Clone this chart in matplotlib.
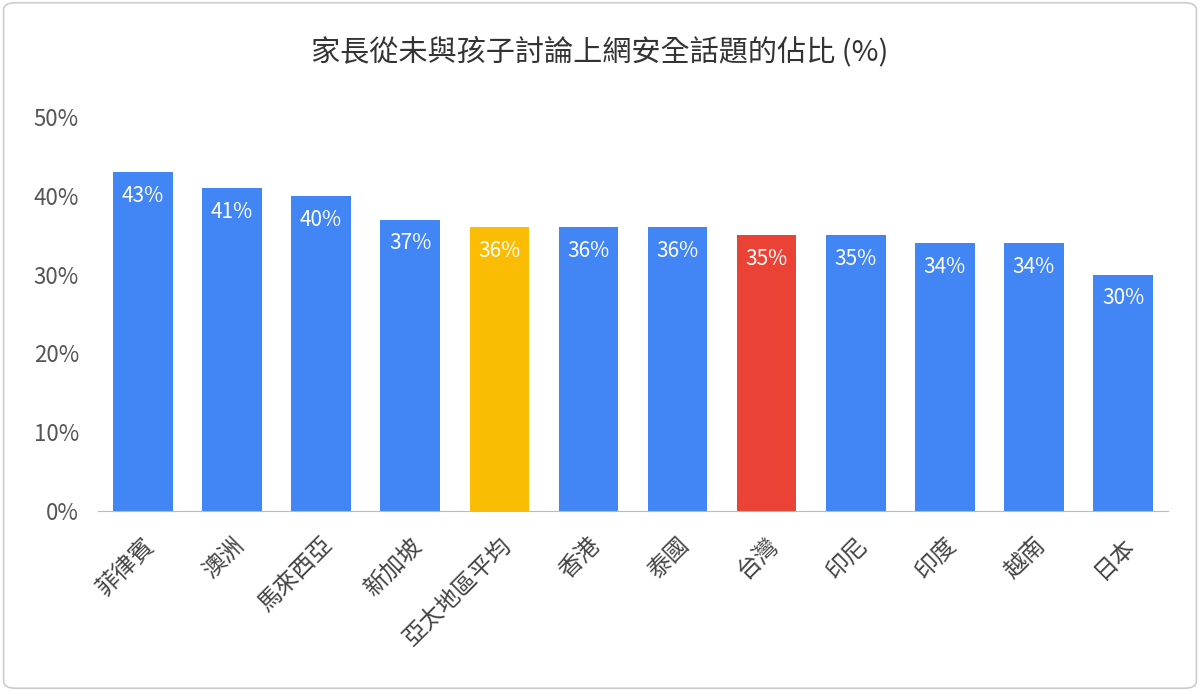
import matplotlib
matplotlib.use("Agg")
import matplotlib.pyplot as plt
from matplotlib.patches import FancyBboxPatch

plt.rcParams['font.family'] = ['Noto Sans CJK TC', 'DejaVu Sans']

categories = ["菲律賓", "澳洲", "馬來西亞", "新加坡", "亞太地區平均", "香港", "泰國", "台灣", "印尼", "印度", "越南", "日本"]
values = [43, 41, 40, 37, 36, 36, 36, 35, 35, 34, 34, 30]
colors = ["#4285F4"] * 12
colors[4] = "#FBBC04"
colors[7] = "#EA4335"
yticks = [0, 10, 20, 30, 40, 50]

fig = plt.figure(figsize=(12, 6.91), dpi=100)
fig.patches.append(FancyBboxPatch((0.003, 0.004), 0.994, 0.992, boxstyle="round,pad=0,rounding_size=0.01",
                                  transform=fig.transFigure, fill=False, edgecolor="#cccccc", linewidth=1.2))
ax = fig.add_axes([0.082, 0.2605, 0.891, 0.570])
x = range(len(categories))
ax.bar(x, values, width=0.67, color=colors)
for xi, v in zip(x, values):
    ax.text(xi, v - 1.6, f"{v}%", ha="center", va="top", color="white", fontsize=15)
ax.set_ylim(0, 50)
ax.set_xlim(-0.5, len(categories) - 0.5)
ax.set_yticks(yticks)
ax.set_yticklabels([f"{t}%" for t in yticks], fontsize=16, color="#555555")
ax.set_xticks(list(x))
ax.set_xticklabels(categories, rotation=45, ha="right", rotation_mode="anchor", fontsize=17, color="#444444")
for s in ["top", "right", "left"]:
    ax.spines[s].set_visible(False)
ax.spines["bottom"].set_color("#bbbbbb")
ax.tick_params(axis="y", length=0, pad=14)
ax.tick_params(axis="x", length=0, pad=16)
fig.text(0.5, 0.925, "家長從未與孩子討論上網安全話題的佔比 (%)", ha="center", va="center", fontsize=21, color="#333333")
fig.savefig("out.png", dpi=100)
